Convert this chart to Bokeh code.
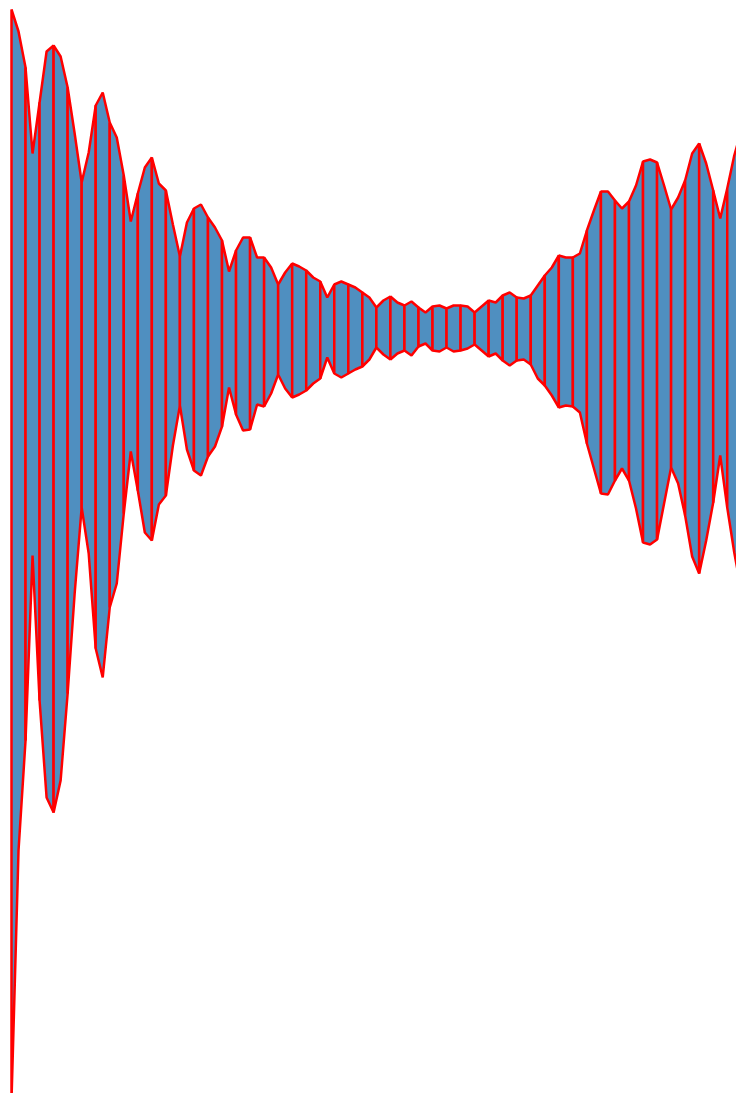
from bokeh.plotting import figure
from bokeh.models import Range1d
from bokeh.embed import file_html
from bokeh.resources import INLINE

# sample index along the band
samples = list(range(105))

# upper envelope
upper_px = [9, 31, 67, 153, 102, 51, 45, 56, 87, 133,
            182, 152, 105, 92, 122, 137, 175, 221, 193, 167,
            157, 183, 190, 224, 256, 222, 208, 204, 217, 227,
            240, 271, 250, 237, 237, 257, 257, 267, 284, 272,
            263, 266, 270, 277, 281, 297, 284, 281, 284, 287,
            292, 297, 307, 300, 296, 302, 305, 301, 307, 312,
            306, 305, 308, 305, 305, 306, 312, 306, 300, 302,
            295, 292, 297, 298, 295, 285, 275, 267, 255, 257,
            257, 253, 230, 210, 191, 191, 200, 208, 201, 185,
            161, 159, 162, 185, 209, 197, 180, 153, 143, 163,
            190, 218, 188, 155, 130]

# lower envelope
lower_px = [1100, 850, 740, 555, 700, 797, 812, 780, 693, 593,
            507, 553, 648, 677, 607, 583, 513, 451, 490, 532,
            540, 504, 495, 445, 405, 449, 470, 475, 456, 446,
            426, 387, 414, 430, 429, 404, 406, 393, 374, 388,
            397, 394, 390, 383, 378, 357, 373, 377, 373, 369,
            366, 359, 347, 354, 359, 353, 350, 355, 346, 343,
            350, 351, 347, 351, 350, 348, 344, 350, 356, 353,
            360, 365, 360, 359, 364, 378, 385, 395, 407, 405,
            406, 412, 443, 468, 493, 494, 480, 468, 480, 508,
            542, 544, 539, 503, 467, 483, 515, 556, 573, 540,
            502, 455, 507, 552, 590]

# convert to heights above the bottom
upper = [1093 - v for v in upper_px]
lower = [1093 - v for v in lower_px]

xs, ys = [], []
for k in range(0, len(samples) - 2, 2):
    idx = [k, k + 1, k + 2]
    xs.append([samples[i] for i in idx] + [samples[i] for i in reversed(idx)])
    ys.append([upper[i] for i in idx] + [lower[i] for i in reversed(idx)])

p = figure(width=736, height=1093, output_backend="svg", toolbar_location=None,
           x_range=Range1d(-1.568, 103.32), y_range=Range1d(0, 1093),
           min_border=0, outline_line_color=None)
p.axis.visible = False
p.grid.visible = False
p.background_fill_color = "white"
p.border_fill_color = "white"

p.patches(xs, ys, fill_color="#4f8fc0", line_color="red", line_width=2.5)

open("out.html", "w").write(file_html(p, INLINE))
